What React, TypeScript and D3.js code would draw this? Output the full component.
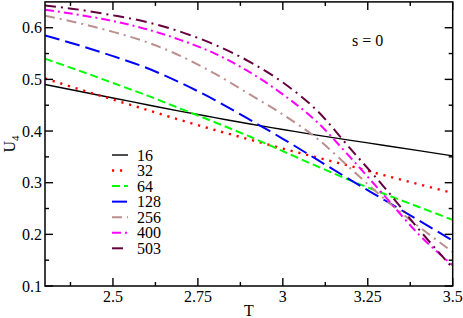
import React from 'react';
import * as d3 from 'd3';

// temperatures sampled along every curve
const temps = [2.3, 2.4, 2.5, 2.6, 2.7, 2.8, 2.9, 3.0, 3.1, 3.2, 3.3, 3.4, 3.5];

// Binder cumulant U4 per lattice size
const u16 = [0.49, 0.477, 0.464, 0.451, 0.438, 0.426, 0.414, 0.403, 0.392, 0.382, 0.372, 0.362, 0.352];
const u32 = [0.502, 0.481, 0.461, 0.441, 0.421, 0.402, 0.384, 0.366, 0.349, 0.332, 0.314, 0.297, 0.28];
const u64 = [0.54, 0.517, 0.493, 0.469, 0.443, 0.417, 0.39, 0.361, 0.332, 0.304, 0.278, 0.253, 0.228];
const u128 = [0.585, 0.566, 0.545, 0.522, 0.493, 0.46, 0.423, 0.385, 0.345, 0.305, 0.266, 0.227, 0.188];
const u256 = [0.623, 0.609, 0.592, 0.572, 0.545, 0.511, 0.472, 0.432, 0.386, 0.327, 0.268, 0.215, 0.166];
const u400 = [0.635, 0.625, 0.613, 0.597, 0.576, 0.55, 0.515, 0.471, 0.418, 0.348, 0.274, 0.2, 0.14];
const u503 = [0.643, 0.635, 0.624, 0.611, 0.592, 0.567, 0.535, 0.494, 0.44, 0.365, 0.29, 0.21, 0.135];

const sizes = ['16', '32', '64', '128', '256', '400', '503'];

const xMajor = [2.5, 2.75, 3, 3.25, 3.5];
const xMinor = [2.375, 2.625, 2.875, 3.125, 3.375];
const yMajor = [0.1, 0.2, 0.3, 0.4, 0.5, 0.6];
const yMinor = [0.15, 0.25, 0.35, 0.45, 0.55];

const W = 463;
const H = 318;
const left = 45;
const right = 452.7;
const top = 1.9;
const bottom = 286;

const styles = [
  { color: '#000000', dash: null, width: 1.4 },
  { color: '#ff0000', dash: '2.2,5.8', width: 2.4 },
  { color: '#00ff00', dash: '8,4', width: 2 },
  { color: '#0000ff', dash: '15,6', width: 2 },
  { color: '#bc8f8f', dash: '10,5,2,5', width: 2 },
  { color: '#ff00ff', dash: '9,4,2,4', width: 2 },
  { color: '#67003f', dash: '11,5,2,5', width: 2 },
];

const font = 'Liberation Serif, Times New Roman, serif';

export default function App() {
  const x = d3.scaleLinear().domain([2.3, 3.5]).range([left, right]);
  const y = d3.scaleLinear().domain([0.1, 0.65]).range([bottom, top]);
  const series = [u16, u32, u64, u128, u256, u400, u503];

  const line = d3
    .line<number>()
    .x((_, i) => x(temps[i]))
    .y((d) => y(d))
    .curve(d3.curveMonotoneX);

  const txt = { fontFamily: font, fontSize: 16 };

  return (
    <svg
      width={W}
      height={H}
      style={{ position: 'absolute', left: 0, top: 0, background: '#fff', fontFamily: font }}
    >
      <defs>
        <clipPath id="plot">
          <rect x={left} y={top} width={right - left} height={bottom - top} />
        </clipPath>
      </defs>

      {/* curves */}
      <g clipPath="url(#plot)" fill="none">
        {series.map((s, i) => (
          <path
            key={sizes[i]}
            d={line(s) ?? ''}
            stroke={styles[i].color}
            strokeWidth={styles[i].width}
            strokeDasharray={styles[i].dash ?? undefined}
          />
        ))}
      </g>

      {/* ticks on all four sides */}
      <g stroke="#000" strokeWidth={1.4}>
        {xMajor.map((t) => (
          <g key={'xM' + t}>
            <line x1={x(t)} x2={x(t)} y1={bottom} y2={bottom - 8} />
            <line x1={x(t)} x2={x(t)} y1={top} y2={top + 8} />
          </g>
        ))}
        {xMinor.map((t) => (
          <g key={'xm' + t}>
            <line x1={x(t)} x2={x(t)} y1={bottom} y2={bottom - 4} />
            <line x1={x(t)} x2={x(t)} y1={top} y2={top + 4} />
          </g>
        ))}
        {yMajor.map((t) => (
          <g key={'yM' + t}>
            <line x1={left} x2={left + 8} y1={y(t)} y2={y(t)} />
            <line x1={right} x2={right - 8} y1={y(t)} y2={y(t)} />
          </g>
        ))}
        {yMinor.map((t) => (
          <g key={'ym' + t}>
            <line x1={left} x2={left + 4} y1={y(t)} y2={y(t)} />
            <line x1={right} x2={right - 4} y1={y(t)} y2={y(t)} />
          </g>
        ))}
      </g>

      {/* frame */}
      <rect
        x={left}
        y={top}
        width={right - left}
        height={bottom - top}
        fill="none"
        stroke="#000"
        strokeWidth={1.5}
      />

      {/* tick labels */}
      {xMajor.map((t) => (
        <text key={'xl' + t} x={x(t)} y={bottom + 16} textAnchor="middle" style={txt}>
          {d3.format('')(t)}
        </text>
      ))}
      {yMajor.map((t) => (
        <text key={'yl' + t} x={left - 3} y={y(t) + 5.5} textAnchor="end" style={txt}>
          {d3.format('.1f')(t)}
        </text>
      ))}

      {/* axis titles */}
      <text x={(left + right) / 2} y={316} textAnchor="middle" style={txt}>
        T
      </text>
      <text
        transform={`translate(15,${(top + bottom) / 2}) rotate(-90)`}
        textAnchor="middle"
        style={txt}
      >
        U<tspan style={{ fontSize: 11 }} dy={4}>4</tspan>
      </text>

      <text x={352} y={46} style={txt}>
        s = 0
      </text>

      {/* legend */}
      {sizes.map((s, i) => {
        const ly = 155 + i * 15.55;
        return (
          <g key={'lg' + s}>
            <line
              x1={112}
              x2={128}
              y1={ly}
              y2={ly}
              stroke={styles[i].color}
              strokeWidth={styles[i].width}
              strokeDasharray={styles[i].dash ?? undefined}
            />
            <text x={137} y={ly + 5.5} style={txt}>
              {s}
            </text>
          </g>
        );
      })}
    </svg>
  );
}
